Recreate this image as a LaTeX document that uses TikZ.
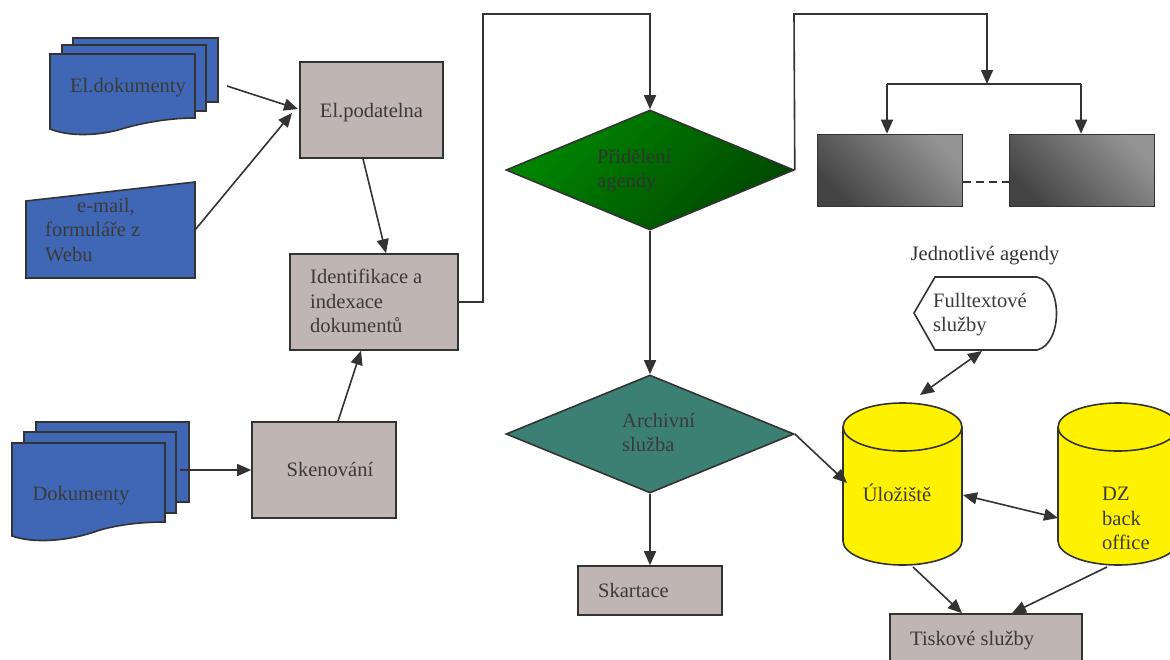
\documentclass[tikz,border=0pt]{standalone}
\usepackage{fontspec}
\setmainfont{Liberation Serif}
\usetikzlibrary{arrows.meta,shapes.geometric}
\definecolor{docblue}{HTML}{3F67B5}
\definecolor{boxgray}{HTML}{BFB5B2}
\definecolor{ink}{HTML}{333333}
\definecolor{txt}{HTML}{3A3A3A}
\definecolor{dbyellow}{HTML}{FFF200}
\definecolor{tealfill}{HTML}{3B8073}
\definecolor{greenA}{HTML}{008800}
\definecolor{greenB}{HTML}{004800}
\definecolor{agdark}{HTML}{444444}
\definecolor{aglight}{HTML}{939393}
\begin{document}
\begin{tikzpicture}[x=1pt,y=-1pt,
  conn/.style={draw=ink, line width=1.6pt},
  arr/.style={conn, -{Triangle[length=14pt,width=12pt]}},
  darr/.style={conn, {Triangle[length=14pt,width=12pt]}-{Triangle[length=14pt,width=12pt]}},
  procbox/.style={draw=ink, fill=boxgray, line width=1.6pt, inner sep=0pt, text=txt,
     font=\fontsize{20.5}{24.5}\selectfont},
  agbox/.style={draw=ink, line width=1.6pt, inner sep=0pt, minimum width=145pt, minimum height=72pt,
     shade, top color=aglight, bottom color=agdark, shading angle=-45},
  docshape/.style={draw=ink, fill=docblue, line width=1.6pt},
  lbl/.style={text=txt, font=\fontsize{20.5}{24.5}\selectfont, inner sep=0pt, align=left},
  cyl/.style={draw=ink, fill=dbyellow, line width=1.6pt},
  diam/.style={diamond, draw=ink, line width=1.6pt, inner sep=0pt, minimum width=288pt}
]
\useasboundingbox (0,0) rectangle (1170,659);

% ---------- El.dokumenty stack ----------
\draw[docshape] (73,38) rectangle (218,102);
\draw[docshape] (62,45) rectangle (206,111);
\draw[docshape] (50,54) -- (195,54) -- (195,118)
   .. controls (175,118) and (150,121) .. (125,128)
   .. controls (100,136) and (70,137) .. (50,129) -- cycle;
\node[lbl] (eldoktxt) at (128,88) {El.dokumenty};
\coordinate (eldokout) at (227,86);

% ---------- e-mail ----------
\draw[docshape] (26,201) -- (195,182) -- (195,278) -- (26,278) -- cycle;
\node[lbl, anchor=west] (emailtxt) at (45,230) {\hspace*{32pt}e-mail,\\formuláře z\\Webu};
\coordinate (emailout) at (195,230);

% ---------- Dokumenty stack ----------
\draw[docshape] (36,422) rectangle (189,502);
\draw[docshape] (24,432) rectangle (176,513);
\draw[docshape] (12,443) -- (165,443) -- (165,522)
   .. controls (150,522) and (125,523) .. (100,530)
   .. controls (70,541) and (35,544) .. (12,536) -- cycle;
\node[lbl] (doktxt) at (81,496) {Dokumenty};
\coordinate (dokout) at (180,470);

% ---------- process boxes ----------
\node[procbox, minimum width=143pt, minimum height=96pt] (podatelna) at (371.5,110) {};
\node[lbl] (podtxt) at (371.5,113) {El.podatelna};
\node[procbox, minimum width=168pt, minimum height=96pt] (ident) at (374,302) {};
\node[lbl, anchor=west] (identtxt) at (310,301) {Identifikace a\\indexace\\dokumentů};
\node[procbox, minimum width=144pt, minimum height=96pt] (sken) at (324,470) {};
\node[lbl] (skentxt) at (330,469) {Skenování};
\node[procbox, minimum width=144pt, minimum height=49pt] (skart) at (650,590.5) {};
\node[lbl, anchor=west] (skarttxt) at (598,590) {Skartace};
\node[procbox, minimum width=192pt, minimum height=90pt] (tisk) at (986,659) {};
\node[lbl, anchor=west] (tisktxt) at (910,641) {Tiskové služby};

% ---------- diamonds ----------
\node[diam, minimum height=120pt, shade, top color=greenA, bottom color=greenB, shading angle=45] (prid) at (650,170) {};
\node[lbl, text=ink, anchor=west] (pridtxt) at (597,170.5) {Přidělení\\agendy};
\node[diam, minimum height=118pt, fill=tealfill] (arch) at (650,434) {};
\node[lbl, anchor=west] (archtxt) at (622,432.5) {Archivní\\služba};

% ---------- agenda boxes ----------
\node[agbox] (ag1) at (890,170.5) {};
\node[agbox] (ag2) at (1082,170.5) {};
\draw[conn, dash pattern=on 8pt off 5pt] (ag1.east |- 0,182) -- (ag2.west |- 0,182);
\node[lbl, text=ink] (agtxt) at (985,256) {Jednotlivé agendy};
\coordinate (split) at (987,84);
\coordinate (splitL) at (887,84);
\coordinate (splitR) at (1081,84);

% ---------- fulltext ----------
\draw[draw=ink, fill=white, line width=1.6pt] (914,313) -- (935,277) -- (1037,277)
   .. controls (1063,283) and (1063,344) .. (1037,350) -- (935,350) -- cycle;
\node[lbl, anchor=west] (fulltxt) at (933,314.5) {Fulltextové\\služby};
\coordinate (fullout) at (982,351);

% ---------- cylinders ----------
\draw[cyl] (843,427) -- (843,541) arc[start angle=180, end angle=360, x radius=59.5pt, y radius=24pt]
   -- (962,427) arc[start angle=0, end angle=180, x radius=59.5pt, y radius=24pt] -- cycle;
\draw[conn] (843,427) arc[start angle=180, end angle=360, x radius=59.5pt, y radius=24pt];
\node[lbl] (ulotxt) at (897,493) {Úložiště};
\draw[cyl] (1058,427) -- (1058,541) arc[start angle=180, end angle=360, x radius=60pt, y radius=24pt]
   -- (1178,427) arc[start angle=0, end angle=180, x radius=60pt, y radius=24pt] -- cycle;
\draw[conn] (1058,427) arc[start angle=180, end angle=360, x radius=60pt, y radius=24pt];
\node[lbl, anchor=west] (dztxt) at (1102,518.5) {DZ\\back\\office};
\coordinate (uloN) at (920,395);
\coordinate (uloE) at (963,495);
\coordinate (uloW) at (847,483);
\coordinate (uloS) at (913,567);
\coordinate (dzW) at (1058,518);
\coordinate (dzS) at (1107,567);

% ---------- connectors ----------
\draw[arr] (eldokout) -- (298,109);
\draw[arr] (emailout) -- (292,113);
\draw[arr] (podatelna.south -| 363,0) -- (ident.north -| 386,0);
\draw[arr] (sken.north -| 338,0) -- (ident.south -| 361,0);
\draw[arr] (dokout) -- (sken.west |- 0,470);
\draw[arr] (ident.east) -- (483,302) -- (483,14) -- (650,14) -- (prid.north);
\draw[arr] (prid.east) -- (794,14) -- (987,14) -- (split);
\draw[conn] (splitL) -- (splitR);
\draw[arr] (splitL) -- (ag1.north -| splitL);
\draw[arr] (splitR) -- (ag2.north -| splitR);
\draw[arr] (prid.south) -- (arch.north);
\draw[arr] (arch.south) -- (skart.north);
\draw[arr] (arch.east) -- (uloW);
\draw[darr] (fullout) -- (uloN);
\draw[darr] (uloE) -- (dzW);
\draw[arr] (uloS) -- (tisk.north -| 962,0);
\draw[arr] (dzS) -- (tisk.north -| 1012,0);
\end{tikzpicture}
\end{document}
